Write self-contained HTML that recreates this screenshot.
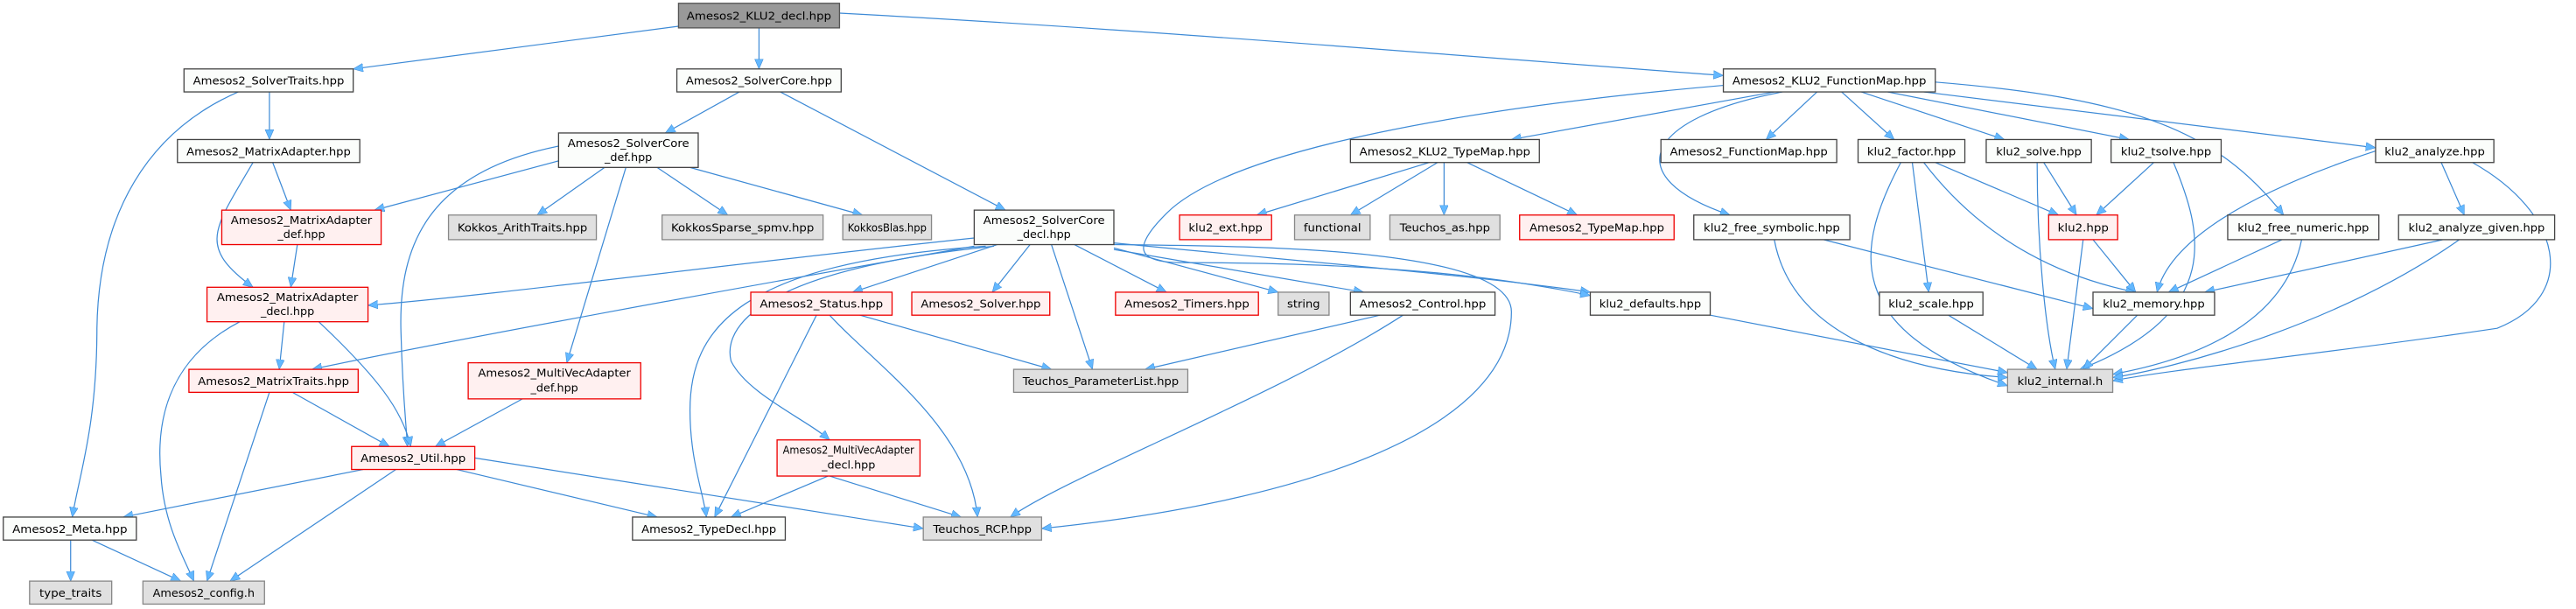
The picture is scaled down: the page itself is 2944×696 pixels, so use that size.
<!DOCTYPE html>
<html><head><meta charset="utf-8"><style>
html,body{margin:0;padding:0;background:#fff;}
svg{display:block;}
text{font-family:"DejaVu Sans","Liberation Sans",sans-serif;font-size:6.8px;fill:#000;text-anchor:middle;}
.e{fill:none;stroke:#3d8ad6;stroke-width:0.65;marker-end:url(#a);}
.w{fill:#fbfdfb;stroke:#444;stroke-width:0.7;}
.r{fill:#fff0f0;stroke:#e00;stroke-width:0.7;}
.g{fill:#e0e0e0;stroke:#888;stroke-width:0.7;}
.m{fill:#999;stroke:#555;stroke-width:0.7;}
</style></head><body>
<svg width="2944" height="696" viewBox="0 0 1568 371" preserveAspectRatio="none" xmlns="http://www.w3.org/2000/svg">
<defs><marker id="a" markerUnits="userSpaceOnUse" markerWidth="7" markerHeight="6" refX="6" refY="2.6" orient="auto"><path d="M0,0 L6,2.6 L0,5.2 Z" fill="#63b8ff" stroke="#3d8ad6" stroke-width="0.3"/></marker></defs>

<!-- edges -->
<path class="e" d="M413,16 L215,42"/>
<path class="e" d="M462,17 L462,42"/>
<path class="e" d="M511,8 C700,18 900,35 1049,46"/>
<path class="e" d="M164,56 L164,85"/>
<path class="e" d="M145,56 C90,80 60,130 59,200 C59,260 48,290 44,315"/>
<path class="e" d="M450,56 L405,81"/>
<path class="e" d="M475,56 L612,128"/>
<path class="e" d="M166,99 L177,128"/>
<path class="e" d="M154,99 C130,140 120,150 154,175"/>
<path class="e" d="M340,98 L228,128"/>
<path class="e" d="M368,102 L327,131"/>
<path class="e" d="M400,102 L443,131"/>
<path class="e" d="M420,102 L525,131"/>
<path class="e" d="M340,89 C260,105 243,150 244,200 C245,240 247,255 248,272"/>
<path class="e" d="M381,102 L345,221"/>
<path class="e" d="M181,149 L177,175"/>
<path class="e" d="M593,145 C450,160 300,180 224,186"/>
<path class="e" d="M593,150 C450,175 260,210 190,225"/>
<path class="e" d="M607,149 L519,178"/>
<path class="e" d="M627,149 L604,178"/>
<path class="e" d="M654,149 L710,178"/>
<path class="e" d="M678,151 L778,178"/>
<path class="e" d="M678,152 L830,178"/>
<path class="e" d="M678,148 C800,160 900,168 968,178"/>
<path class="e" d="M640,149 L665,225"/>
<path class="e" d="M600,150 C450,160 420,200 420,250 C420,280 428,300 430,315"/>
<path class="e" d="M605,150 C460,165 440,200 445,220 C455,240 490,255 505,268"/>
<path class="e" d="M678,149 C760,150 920,150 920,190 C920,260 800,305 634,322"/>
<path class="e" d="M520,191 L640,225"/>
<path class="e" d="M497,192 L435,315"/>
<path class="e" d="M505,192 C530,220 590,260 595,315"/>
<path class="e" d="M840,192 L697,225"/>
<path class="e" d="M854,192 C780,240 650,290 615,315"/>
<path class="e" d="M504,290 L445,315"/>
<path class="e" d="M505,290 L585,315"/>
<path class="e" d="M173,196 L170,225"/>
<path class="e" d="M194,196 C230,230 245,250 250,272"/>
<path class="e" d="M146,196 C100,220 95,260 98,290 C100,320 112,340 118,354"/>
<path class="e" d="M178,239 L237,272"/>
<path class="e" d="M164,239 L126,354"/>
<path class="e" d="M318,243 L265,272"/>
<path class="e" d="M221,286 L75,315"/>
<path class="e" d="M241,286 L140,354"/>
<path class="e" d="M278,286 L400,315"/>
<path class="e" d="M289,279 L562,322"/>
<path class="e" d="M43,329 L43,354"/>
<path class="e" d="M56,329 L110,354"/>
<path class="e" d="M1080,56 L920,85"/>
<path class="e" d="M1106,56 L1075,85"/>
<path class="e" d="M1121,56 L1153,85"/>
<path class="e" d="M1133,56 L1220,85"/>
<path class="e" d="M1149,56 L1296,85"/>
<path class="e" d="M1171,56 L1446,90"/>
<path class="e" d="M1178,50 C1300,60 1350,80 1390,131"/>
<path class="e" d="M1085,56 C1000,72 985,108 1053,131"/>
<path class="e" d="M1049,52 C900,65 750,90 710,130 C690,150 690,160 720,160 C850,160 920,170 968,180"/>
<path class="e" d="M870,99 L765,131"/>
<path class="e" d="M875,99 L822,131"/>
<path class="e" d="M879,99 L879,131"/>
<path class="e" d="M893,99 L960,131"/>
<path class="e" d="M1178,99 L1253,131"/>
<path class="e" d="M1164,99 L1174,178"/>
<path class="e" d="M1171,99 C1210,150 1260,170 1300,178"/>
<path class="e" d="M1157,99 C1130,150 1120,200 1222,235"/>
<path class="e" d="M1244,99 L1264,131"/>
<path class="e" d="M1240,99 C1240,150 1245,200 1251,225"/>
<path class="e" d="M1311,99 L1276,131"/>
<path class="e" d="M1323,99 C1340,140 1355,190 1266,225"/>
<path class="e" d="M1446,92 C1360,120 1320,150 1313,178"/>
<path class="e" d="M1486,99 L1500,131"/>
<path class="e" d="M1505,99 C1560,130 1570,180 1520,200 C1420,215 1320,225 1286,232"/>
<path class="e" d="M1110,146 L1274,188"/>
<path class="e" d="M1080,146 C1090,200 1150,225 1222,230"/>
<path class="e" d="M1274,146 L1300,178"/>
<path class="e" d="M1268,146 L1258,225"/>
<path class="e" d="M1389,146 L1320,178"/>
<path class="e" d="M1401,146 C1390,200 1330,220 1286,228"/>
<path class="e" d="M1487,146 L1342,178"/>
<path class="e" d="M1497,146 C1420,200 1320,225 1286,230"/>
<path class="e" d="M1186,192 L1240,225"/>
<path class="e" d="M1301,192 L1268,225"/>
<path class="e" d="M1041,192 L1222,227"/>

<!-- nodes -->
<rect class="m" x="413" y="2" width="98" height="15"/><text x="462" y="12" textLength="88" lengthAdjust="spacingAndGlyphs">Amesos2_KLU2_decl.hpp</text>
<rect class="w" x="112" y="42" width="103" height="14"/><text x="163.5" y="51.5" textLength="92" lengthAdjust="spacingAndGlyphs">Amesos2_SolverTraits.hpp</text>
<rect class="w" x="412" y="42" width="100" height="14"/><text x="462" y="51.5" textLength="89" lengthAdjust="spacingAndGlyphs">Amesos2_SolverCore.hpp</text>
<rect class="w" x="1049" y="42" width="129" height="14"/><text x="1113.5" y="51.5" textLength="118" lengthAdjust="spacingAndGlyphs">Amesos2_KLU2_FunctionMap.hpp</text>
<rect class="w" x="108" y="85" width="111" height="14"/><text x="163.5" y="94.5" textLength="100" lengthAdjust="spacingAndGlyphs">Amesos2_MatrixAdapter.hpp</text>
<rect class="w" x="340" y="81" width="85" height="21"/><text x="382.5" y="89.5" textLength="74" lengthAdjust="spacingAndGlyphs">Amesos2_SolverCore</text><text x="382.5" y="98">_def.hpp</text>
<rect class="w" x="822" y="85" width="115" height="14"/><text x="879.5" y="94.5" textLength="104" lengthAdjust="spacingAndGlyphs">Amesos2_KLU2_TypeMap.hpp</text>
<rect class="w" x="1011" y="85" width="107" height="14"/><text x="1064.5" y="94.5" textLength="96" lengthAdjust="spacingAndGlyphs">Amesos2_FunctionMap.hpp</text>
<rect class="w" x="1131" y="85" width="65" height="14"/><text x="1163.5" y="94.5" textLength="54" lengthAdjust="spacingAndGlyphs">klu2_factor.hpp</text>
<rect class="w" x="1209" y="85" width="64" height="14"/><text x="1241" y="94.5" textLength="52" lengthAdjust="spacingAndGlyphs">klu2_solve.hpp</text>
<rect class="w" x="1285" y="85" width="67" height="14"/><text x="1318.5" y="94.5" textLength="55" lengthAdjust="spacingAndGlyphs">klu2_tsolve.hpp</text>
<rect class="w" x="1446" y="85" width="72" height="14"/><text x="1482" y="94.5" textLength="61" lengthAdjust="spacingAndGlyphs">klu2_analyze.hpp</text>
<rect class="r" x="135" y="128" width="97" height="21"/><text x="183.5" y="136.5" textLength="86" lengthAdjust="spacingAndGlyphs">Amesos2_MatrixAdapter</text><text x="183.5" y="145">_def.hpp</text>
<rect class="g" x="273" y="131" width="90" height="15"/><text x="318" y="141" textLength="79" lengthAdjust="spacingAndGlyphs">Kokkos_ArithTraits.hpp</text>
<rect class="g" x="403" y="131" width="98" height="15"/><text x="452" y="141" textLength="87" lengthAdjust="spacingAndGlyphs">KokkosSparse_spmv.hpp</text>
<rect class="g" x="513" y="131" width="54" height="15"/><text x="540" y="141" textLength="48" lengthAdjust="spacingAndGlyphs">KokkosBlas.hpp</text>
<rect class="w" x="593" y="128" width="85" height="21"/><text x="635.5" y="136.5" textLength="74" lengthAdjust="spacingAndGlyphs">Amesos2_SolverCore</text><text x="635.5" y="145">_decl.hpp</text>
<rect class="r" x="718" y="131" width="56" height="15"/><text x="746" y="141" textLength="45" lengthAdjust="spacingAndGlyphs">klu2_ext.hpp</text>
<rect class="g" x="788" y="131" width="46" height="15"/><text x="811" y="141" textLength="35" lengthAdjust="spacingAndGlyphs">functional</text>
<rect class="g" x="846" y="131" width="67" height="15"/><text x="879.5" y="141" textLength="55" lengthAdjust="spacingAndGlyphs">Teuchos_as.hpp</text>
<rect class="r" x="925" y="131" width="94" height="15"/><text x="972" y="141" textLength="82" lengthAdjust="spacingAndGlyphs">Amesos2_TypeMap.hpp</text>
<rect class="w" x="1031" y="131" width="95" height="15"/><text x="1078.5" y="141" textLength="83" lengthAdjust="spacingAndGlyphs">klu2_free_symbolic.hpp</text>
<rect class="r" x="1247" y="131" width="42" height="15"/><text x="1268" y="141" textLength="31" lengthAdjust="spacingAndGlyphs">klu2.hpp</text>
<rect class="w" x="1356" y="131" width="92" height="15"/><text x="1402" y="141" textLength="80" lengthAdjust="spacingAndGlyphs">klu2_free_numeric.hpp</text>
<rect class="w" x="1460" y="131" width="95" height="15"/><text x="1507.5" y="141" textLength="83" lengthAdjust="spacingAndGlyphs">klu2_analyze_given.hpp</text>
<rect class="r" x="126" y="175" width="98" height="21"/><text x="175" y="183.5" textLength="86" lengthAdjust="spacingAndGlyphs">Amesos2_MatrixAdapter</text><text x="175" y="192">_decl.hpp</text>
<rect class="r" x="457" y="178" width="86" height="14"/><text x="500" y="187.5" textLength="75" lengthAdjust="spacingAndGlyphs">Amesos2_Status.hpp</text>
<rect class="r" x="555" y="178" width="84" height="14"/><text x="597" y="187.5" textLength="73" lengthAdjust="spacingAndGlyphs">Amesos2_Solver.hpp</text>
<rect class="r" x="679" y="178" width="87" height="14"/><text x="722.5" y="187.5" textLength="76" lengthAdjust="spacingAndGlyphs">Amesos2_Timers.hpp</text>
<rect class="g" x="778" y="178" width="31" height="14"/><text x="793.5" y="187.5" textLength="20" lengthAdjust="spacingAndGlyphs">string</text>
<rect class="w" x="822" y="178" width="88" height="14"/><text x="866" y="187.5" textLength="77" lengthAdjust="spacingAndGlyphs">Amesos2_Control.hpp</text>
<rect class="w" x="968" y="178" width="73" height="14"/><text x="1004.5" y="187.5" textLength="62" lengthAdjust="spacingAndGlyphs">klu2_defaults.hpp</text>
<rect class="w" x="1144" y="178" width="63" height="14"/><text x="1175.5" y="187.5" textLength="52" lengthAdjust="spacingAndGlyphs">klu2_scale.hpp</text>
<rect class="w" x="1274" y="178" width="74" height="14"/><text x="1311" y="187.5" textLength="62" lengthAdjust="spacingAndGlyphs">klu2_memory.hpp</text>
<rect class="r" x="115" y="225" width="103" height="14"/><text x="166.5" y="234.5" textLength="92" lengthAdjust="spacingAndGlyphs">Amesos2_MatrixTraits.hpp</text>
<rect class="r" x="285" y="221" width="105" height="22"/><text x="337.5" y="229.5" textLength="93" lengthAdjust="spacingAndGlyphs">Amesos2_MultiVecAdapter</text><text x="337.5" y="238.5">_def.hpp</text>
<rect class="g" x="617" y="225" width="106" height="14"/><text x="670" y="234.5" textLength="95" lengthAdjust="spacingAndGlyphs">Teuchos_ParameterList.hpp</text>
<rect class="g" x="1222" y="225" width="64" height="14"/><text x="1254" y="234.5" textLength="52" lengthAdjust="spacingAndGlyphs">klu2_internal.h</text>
<rect class="r" x="214" y="272" width="75" height="14"/><text x="251.5" y="281.5" textLength="64" lengthAdjust="spacingAndGlyphs">Amesos2_Util.hpp</text>
<rect class="r" x="473" y="268" width="87" height="22"/><text x="516.5" y="276.5" textLength="80" lengthAdjust="spacingAndGlyphs">Amesos2_MultiVecAdapter</text><text x="516.5" y="285.5">_decl.hpp</text>
<rect class="w" x="2" y="315" width="81" height="14"/><text x="42.5" y="324.5" textLength="70" lengthAdjust="spacingAndGlyphs">Amesos2_Meta.hpp</text>
<rect class="w" x="385" y="315" width="93" height="14"/><text x="431.5" y="324.5" textLength="82" lengthAdjust="spacingAndGlyphs">Amesos2_TypeDecl.hpp</text>
<rect class="g" x="562" y="315" width="72" height="14"/><text x="598" y="324.5" textLength="60" lengthAdjust="spacingAndGlyphs">Teuchos_RCP.hpp</text>
<rect class="g" x="18" y="354" width="50" height="14"/><text x="43" y="363.5" textLength="38" lengthAdjust="spacingAndGlyphs">type_traits</text>
<rect class="g" x="87" y="354" width="74" height="14"/><text x="124" y="363.5" textLength="62" lengthAdjust="spacingAndGlyphs">Amesos2_config.h</text>
</svg>
</body></html>
